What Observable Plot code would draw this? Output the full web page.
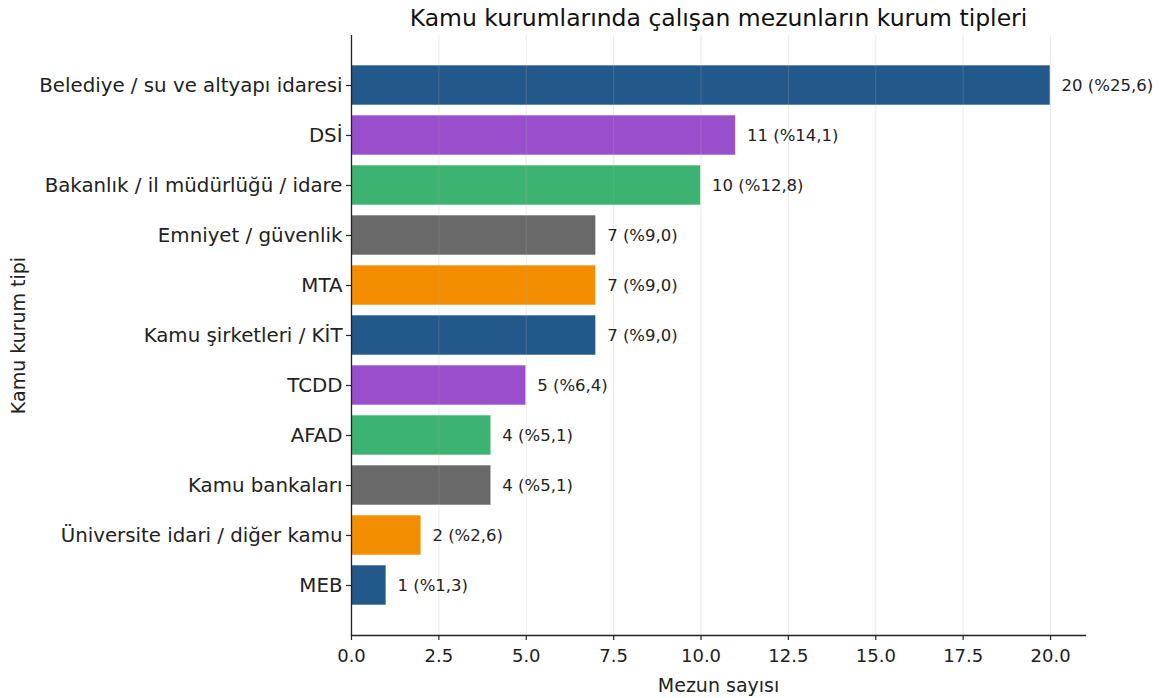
<!DOCTYPE html>
<html>
<head>
<meta charset="utf-8">
<script src="https://cdn.jsdelivr.net/npm/d3@7"></script>
<script src="https://cdn.jsdelivr.net/npm/@observablehq/plot@0.6"></script>
<style>
  html, body { margin: 0; padding: 0; background: #fff; }
  #chart { width: 1159px; height: 698px; }
  svg { font-family: "DejaVu Sans", sans-serif; }
</style>
</head>
<body>
<div id="chart"></div>
<script>
const categories = [
  "Belediye / su ve altyapı idaresi",
  "DSİ",
  "Bakanlık / il müdürlüğü / idare",
  "Emniyet / güvenlik",
  "MTA",
  "Kamu şirketleri / KİT",
  "TCDD",
  "AFAD",
  "Kamu bankaları",
  "Üniversite idari / diğer kamu",
  "MEB"
];
const counts = [20, 11, 10, 7, 7, 7, 5, 4, 4, 2, 1];
const percents = ["25,6", "14,1", "12,8", "9,0", "9,0", "9,0", "6,4", "5,1", "5,1", "2,6", "1,3"];
const palette = ["#23588a", "#994fcc", "#3cb371", "#696969", "#f28e00"];
const xTicks = [0, 2.5, 5, 7.5, 10, 12.5, 15, 17.5, 20];

const data = categories.map((c, i) => ({
  category: c,
  count: counts[i],
  label: `${counts[i]} (%${percents[i]})`,
  color: palette[i % palette.length]
}));

const chart = Plot.plot({
  width: 1159,
  height: 698,
  marginTop: 35,
  marginBottom: 63,
  marginLeft: 351,
  marginRight: 74,
  style: {fontFamily: "'DejaVu Sans', sans-serif", color: "#222", background: "#fff"},
  x: {domain: [0, 21]},
  y: {domain: categories, paddingInner: 0.2, paddingOuter: 0.5525},
  color: {type: "identity"},
  marks: [
    Plot.barX(data, {y: "category", x: "count", fill: "color", stroke: "#ffffff", strokeOpacity: 0.6, strokeWidth: 1}),
    Plot.ruleX(xTicks, {stroke: "#b0b0b0", strokeOpacity: 0.25, strokeWidth: 1}),
    Plot.text(data, {y: "category", x: "count", text: "label", textAnchor: "start", dx: 11, fontSize: 16.5, fill: "#222"}),
    Plot.axisX({ticks: xTicks, tickFormat: d => d.toFixed(1), tickSize: 5, tickPadding: 9, fontSize: 18, label: null, stroke: "#222", strokeWidth: 1.2}),
    Plot.axisY({tickSize: 5, tickPadding: 4, fontSize: 19.8, label: null, stroke: "#222", strokeWidth: 1.2}),
    Plot.ruleX([0], {stroke: "#222", strokeWidth: 1.3}),
    Plot.frame({anchor: "bottom", stroke: "#222", strokeWidth: 1.3}),
    Plot.text(["Kamu kurumlarında çalışan mezunların kurum tipleri"], {frameAnchor: "top", lineAnchor: "middle", textAnchor: "middle", dy: -17, fontSize: 23.5, fill: "#111"}),
    Plot.text(["Mezun sayısı"], {frameAnchor: "bottom", lineAnchor: "middle", textAnchor: "middle", dy: 50, fontSize: 19, fill: "#222"}),
    Plot.text(["Kamu kurum tipi"], {frameAnchor: "left", lineAnchor: "middle", textAnchor: "middle", dx: -333, rotate: -90, fontSize: 19, fill: "#222"})
  ]
});
document.getElementById("chart").append(chart);
</script>
</body>
</html>
